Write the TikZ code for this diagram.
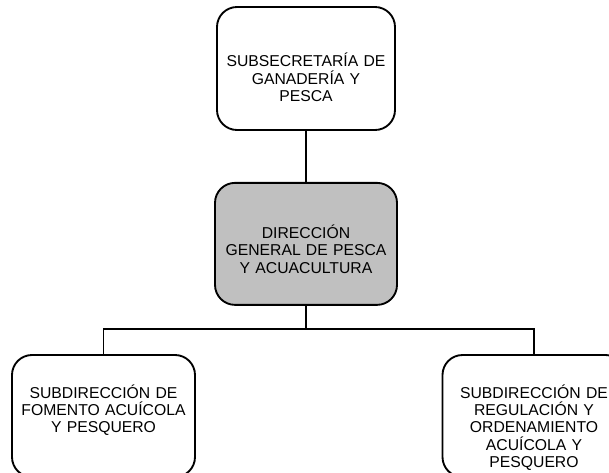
\documentclass[tikz,border=0pt]{standalone}
\usepackage{fontspec}
\setmainfont{Liberation Sans}
\usetikzlibrary{positioning}
\definecolor{headgray}{RGB}{192,192,192}
\tikzstyle{unitnode} = [draw, rounded corners=15pt, line width=1.4pt, inner sep=0pt, text width=132pt, align=center, text height=0pt, text depth=0pt, font=\fontsize{11.8}{13.1}\selectfont]
\tikzstyle{headnode} = [fill=headgray]
\tikzstyle{link} = [line width=1.4pt]

\begin{document}
\begin{tikzpicture}[x=0.75pt, y=-0.75pt]
  \path[use as bounding box, fill=white] (0,0) rectangle (609,472);
  \clip (0,0) rectangle (609,472);

  \node[unitnode, minimum width=133.5pt, minimum height=92.25pt, text depth=2.7pt] (sub) at (306,68.5) {SUBSECRETARÍA DE\\GANADERÍA Y\\PESCA};
  \node[unitnode, headnode, minimum width=136.5pt, minimum height=91.5pt, text depth=8.25pt, below=38.25pt of sub] (dir) {DIRECCIÓN\\GENERAL DE PESCA\\Y ACUACULTURA};
  \node[unitnode, minimum width=137.25pt, minimum height=91.5pt, text depth=27pt] (fom) at (103.5,416) {SUBDIRECCIÓN DE\\FOMENTO ACUÍCOLA\\Y PESQUERO};
  \node[unitnode, minimum width=137.25pt, minimum height=91.5pt, text depth=27pt] (reg) at (534,416) {SUBDIRECCIÓN DE\\REGULACIÓN Y\\ORDENAMIENTO\\ACUÍCOLA Y\\PESQUERO};

  \draw[link] (sub) -- (dir);
  \draw[link] (dir.south) -- ++(0,23) -| (fom.north);
  \draw[link] (dir.south) -- ++(0,23) -| (reg.north);
\end{tikzpicture}
\end{document}
